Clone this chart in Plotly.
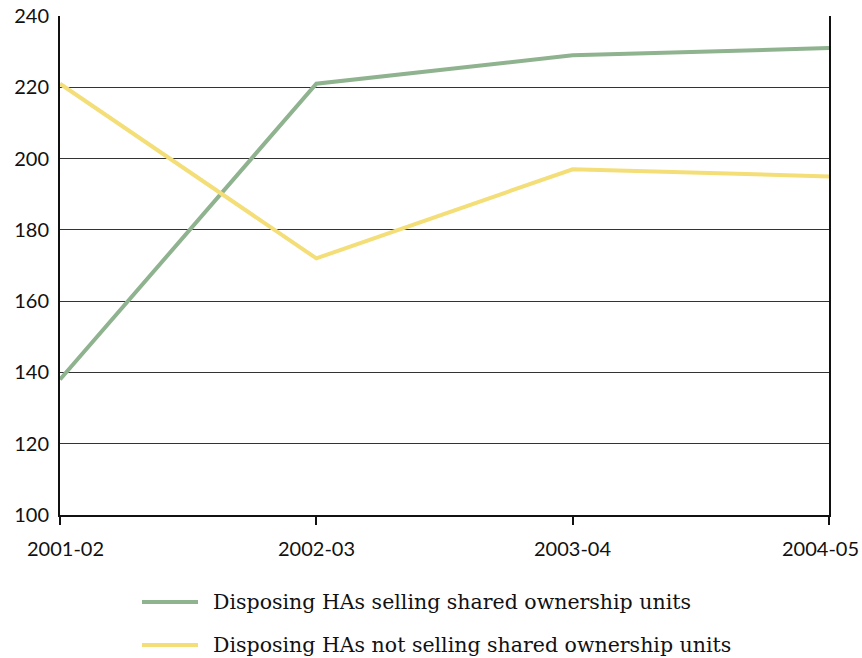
import plotly.graph_objects as go

years = ["2001-02", "2002-03", "2003-04", "2004-05"]
selling = [138, 221, 229, 231]
not_selling = [221, 172, 197, 195]
names = ["Disposing HAs selling shared ownership units",
         "Disposing HAs not selling shared ownership units"]
colors = ["#8fb28f", "#f4de78"]
y_ticks = [100, 120, 140, 160, 180, 200, 220, 240]

fig = go.Figure()
for vals, name, col in zip([selling, not_selling], names, colors):
    fig.add_trace(go.Scatter(x=list(range(len(years))), y=vals, mode="lines", name=name,
                             line=dict(color=col, width=4), showlegend=False))

fig.update_layout(
    width=862, height=658,
    margin=dict(l=60, r=33, t=16, b=143),
    plot_bgcolor="white", paper_bgcolor="white",
    font=dict(family="Lato, sans-serif", size=20, color="#111"),
)
fig.update_xaxes(range=[0, len(years) - 1], tickvals=list(range(len(years))),
                 showticklabels=False, ticks="outside", ticklen=8, tickcolor="#111",
                 tickwidth=1.5, showgrid=False, showline=True, linecolor="#111",
                 linewidth=2, zeroline=False, automargin=False)
fig.update_yaxes(range=[100, 240], tickvals=y_ticks, showgrid=True, gridcolor="#333",
                 gridwidth=1, showline=True, mirror=True, linecolor="#111", linewidth=2,
                 ticks="outside", ticklen=5, tickcolor="rgba(0,0,0,0)",
                 zeroline=False, automargin=False,
                 tickfont=dict(family="Lato, sans-serif", size=20, color="#111"))

# x tick labels
for i, yr in enumerate(years):
    shift = 0
    if i == 0:
        shift = 5
    elif i == len(years) - 1:
        shift = -9
    fig.add_annotation(x=i, y=0, xref="x", yref="paper", text=yr, showarrow=False,
                       yanchor="middle", yshift=-33, xshift=shift,
                       font=dict(family="Lato, sans-serif", size=20, color="#111"))

# legend
legend_y = [-0.1743, -0.2605]
for name, col, ly in zip(names, colors, legend_y):
    fig.add_shape(type="line", xref="paper", yref="paper",
                  x0=(142 - 60) / 769, x1=(198 - 60) / 769, y0=ly, y1=ly,
                  line=dict(color=col, width=4))
    fig.add_annotation(xref="paper", yref="paper", x=(211 - 60) / 769, y=ly,
                       text=name, showarrow=False, xanchor="left", yanchor="middle",
                       font=dict(family="DejaVu Serif, serif", size=20.5, color="#111"))

fig.write_html("out.html")
